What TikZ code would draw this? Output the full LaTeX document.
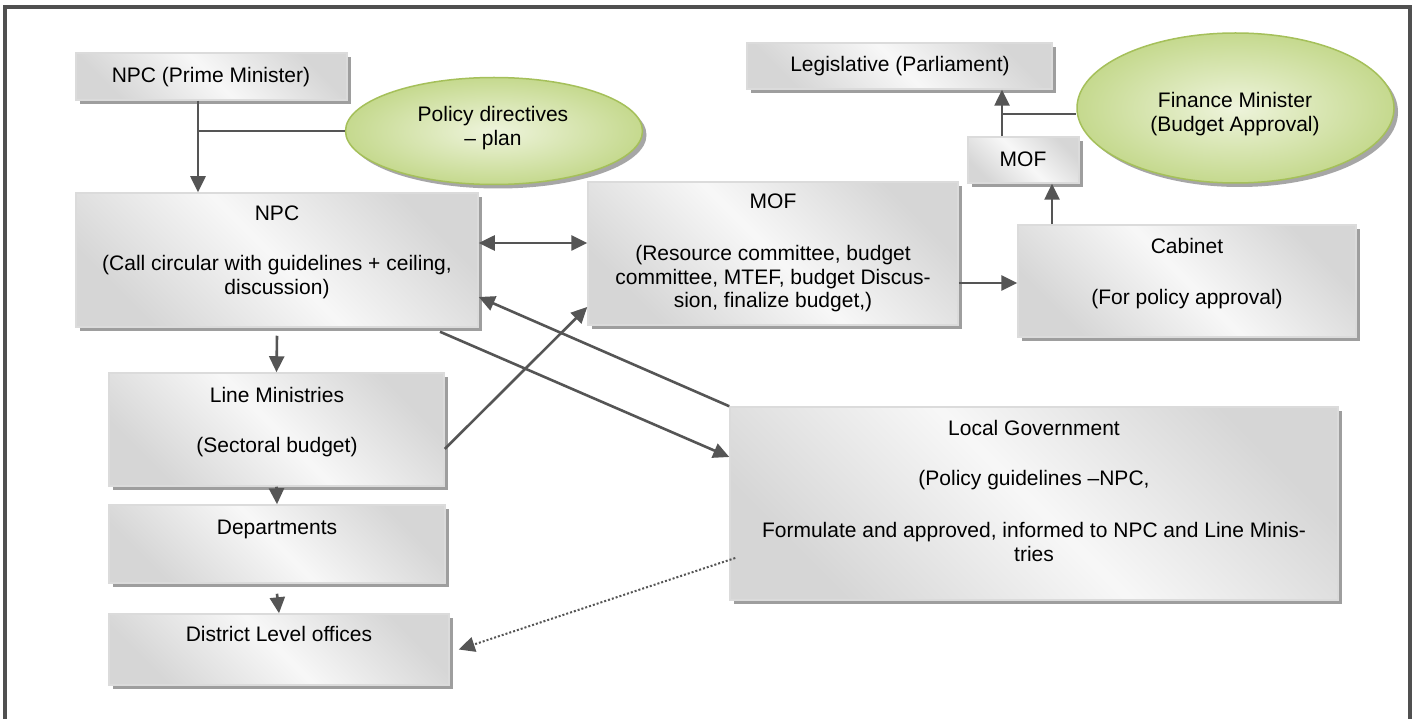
\documentclass[tikz,border=0pt]{standalone}
\usepackage{fontspec}
\setmainfont{Liberation Sans}
\usetikzlibrary{shapes.geometric,shadows,arrows.meta}
\definecolor{arrc}{HTML}{555555}
\definecolor{framec}{HTML}{505050}
\definecolor{greenedge}{HTML}{A5C05A}
\definecolor{greenin}{HTML}{EEF4DC}
\definecolor{greenout}{HTML}{C5D98E}
\begin{document}
\begin{tikzpicture}[x=1pt,y=-1pt,
  box/.style={rectangle, draw=gray!28, line width=1.5pt, inner sep=0pt,
    left color=gray!32, right color=gray!32, middle color=gray!6, shading angle=135,
    drop shadow={shadow xshift=4pt, shadow yshift=-4pt, fill=black!38, opacity=1}},
  oval/.style={ellipse, draw=greenedge, line width=1.5pt, inner sep=0pt,
    inner color=greenin, outer color=greenout,
    drop shadow={shadow xshift=4pt, shadow yshift=-4pt, fill=black!35, opacity=1}},
  txt/.style={inner sep=0pt, align=center, font=\fontsize{21}{24}\selectfont,
    text height=15pt, text depth=4.5pt},
  txtm/.style={inner sep=0pt, align=center, font=\fontsize{21}{23.5}\selectfont},
  arr/.style={draw=arrc, line width=2.6pt, -{Triangle[length=16pt,width=15pt]}},
  arrb/.style={draw=arrc, line width=2.6pt, {Triangle[length=16pt,width=15pt]}-{Triangle[length=16pt,width=15pt]}},
  ln/.style={draw=arrc, line width=1.8pt},
  dotarr/.style={draw=arrc, line width=2pt, dotted, -{Triangle[length=16pt,width=15pt]}}
]
\useasboundingbox (0,0) rectangle (1416,719);
\fill[white] (0,0) rectangle (1416,719);
\draw[framec, line width=3.5pt] (5,7) rectangle (1410,740);

% boxes
\node[box, minimum width=271pt, minimum height=47pt] (pm) at (211.5,76.5) {};
\node[oval, minimum width=297pt, minimum height=107pt] (pol) at (494,131) {};
\node[box, minimum width=402pt, minimum height=134pt] (npc) at (277,260) {};
\node[box, minimum width=370pt, minimum height=143pt] (mof) at (773,253.5) {};
\node[box, minimum width=338pt, minimum height=112pt] (cab) at (1187,281) {};
\node[box, minimum width=111pt, minimum height=46pt] (mofs) at (1023.5,160) {};
\node[box, minimum width=305pt, minimum height=46pt] (leg) at (899.5,66) {};
\node[oval, minimum width=317pt, minimum height=150pt] (fin) at (1235.5,108) {};
\node[box, minimum width=335pt, minimum height=113pt] (line) at (276.5,429.5) {};
\node[box, minimum width=336pt, minimum height=78pt] (dept) at (277,544) {};
\node[box, minimum width=340pt, minimum height=71pt] (dist) at (279,649.5) {};
\node[box, minimum width=608pt, minimum height=193pt] (lg) at (1034,503.5) {};

% texts
\node[txt] (tpm) at (211,77) {NPC (Prime Minister)};
\node[txtm] (tpol) at (493,128) {Policy directives\\– plan};
\node[txt] (tnpc1) at (277,215) {NPC};
\node[txtm] (tnpc2) at (277,277) {(Call circular with guidelines + ceiling,\\discussion)};
\node[txt] (tmof1) at (773,203) {MOF};
\node[txtm] (tmof2) at (773,279) {(Resource committee, budget\\committee, MTEF, budget Discus-\\sion, finalize budget,)};
\node[txt] (tcab1) at (1187,248) {Cabinet};
\node[txt] (tcab2) at (1187,299) {(For policy approval)};
\node[txt] (tmofs) at (1023,161) {MOF};
\node[txt] (tleg) at (900,66) {Legislative (Parliament)};
\node[txtm] (tfin) at (1235,114) {Finance Minister\\(Budget Approval)};
\node[txt] (tline1) at (277,397) {Line Ministries};
\node[txt] (tline2) at (277,447) {(Sectoral budget)};
\node[txt] (tdept) at (277,529) {Departments};
\node[txt] (tdist) at (279,636) {District Level offices};
\node[txt] (tlg1) at (1034,430) {Local Government};
\node[txt] (tlg2) at (1034,480) {(Policy guidelines –NPC,};
\node[txtm] (tlg3) at (1034,542) {Formulate and approved, informed to NPC and Line Minis-\\tries};

% connectors
\coordinate (c1) at ([xshift=-13.5pt]pm.south);
\draw[arr] (c1) -- (c1 |- npc.north);
\draw[ln] (pol.west -| c1) -- (pol.west);

\coordinate (c2) at ([yshift=17pt]npc.east);
\draw[arrb] (c2) -- (c2 -| mof.west);

\coordinate (c3) at ([yshift=-29.5pt]mof.east);
\draw[arr] (c3) -- (c3 -| cab.west);

\coordinate (c4) at ([xshift=-135pt]cab.north);
\draw[arr] (c4) -- (c4 |- mofs.south);

\coordinate (c5) at ([xshift=-21.5pt]mofs.north);
\draw[arr] (c5) -- (c5 |- leg.south);
\coordinate (c5b) at ([yshift=-6pt]fin.west);
\draw[ln] (c5b -| c5) -- (c5b);

\coordinate (c6) at ([yshift=-8pt]npc.south);
\draw[arr] (c6) -- (line.north);
\draw[arr] (line.south) -- (dept.north);
\coordinate (c8) at ([yshift=-10pt]dept.south);
\draw[arr] (c8) -- (dist.north);

\coordinate (c9a) at ([xshift=163pt,yshift=-4pt]npc.south);
\coordinate (c9b) at ([yshift=46.5pt]lg.west);
\draw[arr] (c9a) -- (c9b);

\coordinate (c10) at ([yshift=-37pt]npc.east);
\draw[arr] (lg.north west) -- (c10);

\coordinate (c11a) at ([yshift=-19.5pt]line.east);
\coordinate (c11b) at ([yshift=-53.5pt]mof.west);
\draw[arr] (c11a) -- (c11b);

\coordinate (c12a) at ([xshift=6pt,yshift=-54.5pt]lg.west);
\coordinate (c12b) at ([xshift=9pt]dist.east);
\draw[dotarr] (c12a) -- (c12b);
\end{tikzpicture}
\end{document}
